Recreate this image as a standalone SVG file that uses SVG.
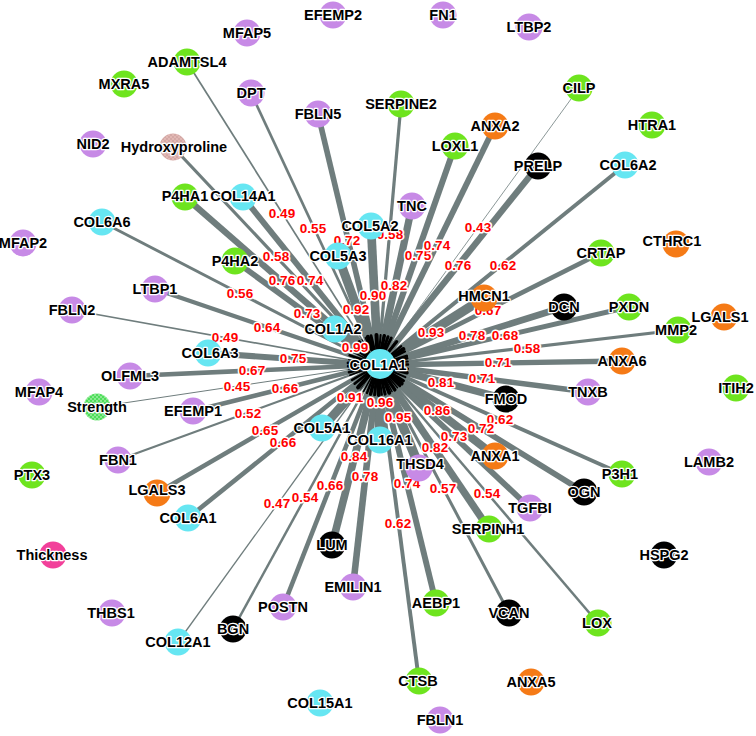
<svg xmlns="http://www.w3.org/2000/svg" width="756" height="736" viewBox="0 0 756 736">
<style>
.e{stroke:#6f7d7d;stroke-linecap:butt;fill:none}
.s{stroke:#000;stroke-linecap:round}
.w{font-family:"Liberation Sans",Arial,sans-serif;font-weight:bold;font-size:13.5px;fill:#f00;stroke:#fff;stroke-width:3;paint-order:stroke;stroke-linejoin:round;text-anchor:middle}
text.l{font-family:"Liberation Sans",Arial,sans-serif;font-weight:bold;font-size:14.5px;fill:#000;stroke:#fff;stroke-width:2.5;paint-order:stroke;stroke-linejoin:round;text-anchor:middle}
.pu{fill:#c78ae6}.gr{fill:#6ee41e}.cy{fill:#66e6f2}.or{fill:#f57a16}.bk{fill:#000}.pk{fill:#f2409a}
.hy{fill:url(#hyp)}.st{fill:url(#str)}
</style>
<defs>
<pattern id="hyp" width="4" height="4" patternUnits="userSpaceOnUse"><rect width="4" height="4" fill="#e2b8b4"/><circle cx="1" cy="1" r="0.8" fill="#c49694"/><circle cx="3" cy="3" r="0.8" fill="#c49694"/></pattern>
<pattern id="str" width="4" height="4" patternUnits="userSpaceOnUse"><rect width="4" height="4" fill="#4ede5a"/><circle cx="1" cy="1" r="0.8" fill="#d8f8d8"/><circle cx="3" cy="3" r="0.8" fill="#d8f8d8"/></pattern>
</defs>
<rect width="756" height="736" fill="#fff"/>
<g id="edges">
<line class="e" x1="187" y1="62" x2="378" y2="365" stroke-width="1.7"/>
<line class="e" x1="251" y1="93" x2="378" y2="365" stroke-width="2.7"/>
<line class="e" x1="318" y1="114" x2="378" y2="365" stroke-width="5.6"/>
<line class="e" x1="401" y1="104" x2="378" y2="365" stroke-width="3.2"/>
<line class="e" x1="371" y1="226" x2="378" y2="365" stroke-width="8.7"/>
<line class="e" x1="412" y1="206" x2="378" y2="365" stroke-width="7.3"/>
<line class="e" x1="455" y1="146" x2="378" y2="365" stroke-width="6.1"/>
<line class="e" x1="495" y1="126" x2="378" y2="365" stroke-width="5.9"/>
<line class="e" x1="579" y1="88" x2="378" y2="365" stroke-width="0.8"/>
<line class="e" x1="538" y1="166" x2="378" y2="365" stroke-width="6.3"/>
<line class="e" x1="625" y1="165" x2="378" y2="365" stroke-width="3.9"/>
<line class="e" x1="484" y1="298" x2="378" y2="365" stroke-width="9.2"/>
<line class="e" x1="601" y1="253" x2="378" y2="365" stroke-width="4.7"/>
<line class="e" x1="564" y1="307" x2="378" y2="365" stroke-width="6.6"/>
<line class="e" x1="629" y1="307" x2="378" y2="365" stroke-width="4.9"/>
<line class="e" x1="678" y1="330" x2="378" y2="365" stroke-width="3.2"/>
<line class="e" x1="622" y1="361" x2="378" y2="365" stroke-width="5.4"/>
<line class="e" x1="588" y1="392" x2="378" y2="365" stroke-width="5.4"/>
<line class="e" x1="506" y1="399" x2="378" y2="365" stroke-width="7.1"/>
<line class="e" x1="622" y1="474" x2="378" y2="365" stroke-width="3.9"/>
<line class="e" x1="584" y1="492" x2="378" y2="365" stroke-width="5.6"/>
<line class="e" x1="495" y1="456" x2="378" y2="365" stroke-width="8.0"/>
<line class="e" x1="530" y1="508" x2="378" y2="365" stroke-width="5.8"/>
<line class="e" x1="489" y1="529" x2="378" y2="365" stroke-width="7.3"/>
<line class="e" x1="598" y1="623" x2="378" y2="365" stroke-width="2.5"/>
<line class="e" x1="509" y1="613" x2="378" y2="365" stroke-width="3.0"/>
<line class="e" x1="419" y1="466" x2="378" y2="365" stroke-width="9.5"/>
<line class="e" x1="436" y1="603" x2="378" y2="365" stroke-width="5.9"/>
<line class="e" x1="419" y1="681" x2="378" y2="365" stroke-width="3.9"/>
<line class="e" x1="380" y1="440" x2="378" y2="365" stroke-width="9.7"/>
<line class="e" x1="353" y1="587" x2="378" y2="365" stroke-width="6.6"/>
<line class="e" x1="332" y1="545" x2="378" y2="365" stroke-width="7.6"/>
<line class="e" x1="322" y1="428" x2="378" y2="365" stroke-width="8.8"/>
<line class="e" x1="283" y1="607" x2="378" y2="365" stroke-width="4.6"/>
<line class="e" x1="233" y1="629" x2="378" y2="365" stroke-width="2.5"/>
<line class="e" x1="178" y1="642" x2="378" y2="365" stroke-width="1.3"/>
<line class="e" x1="188" y1="518" x2="378" y2="365" stroke-width="4.6"/>
<line class="e" x1="157" y1="493" x2="378" y2="365" stroke-width="4.4"/>
<line class="e" x1="118" y1="460" x2="378" y2="365" stroke-width="2.2"/>
<line class="e" x1="193" y1="411" x2="378" y2="365" stroke-width="4.6"/>
<line class="e" x1="97" y1="407" x2="378" y2="365" stroke-width="1.0"/>
<line class="e" x1="130" y1="376" x2="378" y2="365" stroke-width="4.7"/>
<line class="e" x1="208" y1="353" x2="378" y2="365" stroke-width="6.1"/>
<line class="e" x1="72" y1="310" x2="378" y2="365" stroke-width="1.7"/>
<line class="e" x1="155" y1="289" x2="378" y2="365" stroke-width="4.2"/>
<line class="e" x1="102" y1="222" x2="378" y2="365" stroke-width="2.9"/>
<line class="e" x1="235" y1="261" x2="378" y2="365" stroke-width="5.8"/>
<line class="e" x1="173" y1="147" x2="378" y2="365" stroke-width="3.2"/>
<line class="e" x1="185" y1="197" x2="378" y2="365" stroke-width="6.3"/>
<line class="e" x1="243" y1="197" x2="378" y2="365" stroke-width="5.9"/>
<line class="e" x1="338" y1="256" x2="378" y2="365" stroke-width="9.0"/>
<line class="e" x1="335" y1="329" x2="378" y2="365" stroke-width="10.2"/>
</g>
<g id="hub-spikes">
<line class="s" x1="378" y1="365" x2="362.0" y2="339.6" stroke-width="1"/>
<line class="s" x1="378" y1="365" x2="365.3" y2="337.8" stroke-width="1.5"/>
<line class="s" x1="378" y1="365" x2="371.0" y2="335.8" stroke-width="3"/>
<line class="s" x1="378" y1="365" x2="380.6" y2="335.1" stroke-width="2"/>
<line class="s" x1="378" y1="365" x2="376.5" y2="335.0" stroke-width="4"/>
<line class="s" x1="378" y1="365" x2="384.3" y2="335.7" stroke-width="3.5"/>
<line class="s" x1="378" y1="365" x2="388.0" y2="336.7" stroke-width="3"/>
<line class="s" x1="378" y1="365" x2="391.2" y2="338.1" stroke-width="3"/>
<line class="s" x1="378" y1="365" x2="395.6" y2="340.7" stroke-width="0.8"/>
<line class="s" x1="378" y1="365" x2="396.8" y2="341.6" stroke-width="3"/>
<line class="s" x1="378" y1="365" x2="401.3" y2="346.1" stroke-width="2"/>
<line class="s" x1="378" y1="365" x2="403.4" y2="349.0" stroke-width="4"/>
<line class="s" x1="378" y1="365" x2="404.8" y2="351.5" stroke-width="2.5"/>
<line class="s" x1="378" y1="365" x2="406.6" y2="356.1" stroke-width="3"/>
<line class="s" x1="378" y1="365" x2="407.2" y2="358.2" stroke-width="2.5"/>
<line class="s" x1="378" y1="365" x2="407.8" y2="361.5" stroke-width="2"/>
<line class="s" x1="378" y1="365" x2="408.0" y2="364.5" stroke-width="2.5"/>
<line class="s" x1="378" y1="365" x2="407.8" y2="368.8" stroke-width="2.5"/>
<line class="s" x1="378" y1="365" x2="407.0" y2="372.7" stroke-width="3.5"/>
<line class="s" x1="378" y1="365" x2="405.4" y2="377.2" stroke-width="2"/>
<line class="s" x1="378" y1="365" x2="403.5" y2="380.7" stroke-width="3"/>
<line class="s" x1="378" y1="365" x2="401.7" y2="383.4" stroke-width="4"/>
<line class="s" x1="378" y1="365" x2="399.8" y2="385.6" stroke-width="3"/>
<line class="s" x1="378" y1="365" x2="394.8" y2="389.8" stroke-width="3.5"/>
<line class="s" x1="378" y1="365" x2="397.5" y2="387.8" stroke-width="1.5"/>
<line class="s" x1="378" y1="365" x2="392.0" y2="391.5" stroke-width="1.5"/>
<line class="s" x1="378" y1="365" x2="389.3" y2="392.8" stroke-width="4"/>
<line class="s" x1="378" y1="365" x2="385.1" y2="394.1" stroke-width="3"/>
<line class="s" x1="378" y1="365" x2="381.9" y2="394.8" stroke-width="2"/>
<line class="s" x1="378" y1="365" x2="378.8" y2="395.0" stroke-width="4"/>
<line class="s" x1="378" y1="365" x2="374.6" y2="394.8" stroke-width="3"/>
<line class="s" x1="378" y1="365" x2="370.6" y2="394.1" stroke-width="3.5"/>
<line class="s" x1="378" y1="365" x2="358.1" y2="387.4" stroke-width="4"/>
<line class="s" x1="378" y1="365" x2="367.0" y2="392.9" stroke-width="2.5"/>
<line class="s" x1="378" y1="365" x2="363.6" y2="391.3" stroke-width="1.5"/>
<line class="s" x1="378" y1="365" x2="360.4" y2="389.3" stroke-width="0.8"/>
<line class="s" x1="378" y1="365" x2="354.6" y2="383.8" stroke-width="2.5"/>
<line class="s" x1="378" y1="365" x2="352.0" y2="380.0" stroke-width="2.5"/>
<line class="s" x1="378" y1="365" x2="349.8" y2="375.3" stroke-width="1.5"/>
<line class="s" x1="378" y1="365" x2="348.9" y2="372.2" stroke-width="2.5"/>
<line class="s" x1="378" y1="365" x2="348.3" y2="369.4" stroke-width="0.8"/>
<line class="s" x1="378" y1="365" x2="348.0" y2="366.3" stroke-width="2.5"/>
<line class="s" x1="378" y1="365" x2="348.1" y2="362.9" stroke-width="3"/>
<line class="s" x1="378" y1="365" x2="348.5" y2="359.7" stroke-width="1"/>
<line class="s" x1="378" y1="365" x2="349.6" y2="355.3" stroke-width="2.5"/>
<line class="s" x1="378" y1="365" x2="351.4" y2="351.2" stroke-width="1.5"/>
<line class="s" x1="378" y1="365" x2="353.7" y2="347.4" stroke-width="3"/>
<line class="s" x1="378" y1="365" x2="357.4" y2="343.1" stroke-width="2"/>
<line class="s" x1="378" y1="365" x2="355.4" y2="345.3" stroke-width="3"/>
<line class="s" x1="378" y1="365" x2="359.2" y2="341.6" stroke-width="3"/>
<line class="s" x1="378" y1="365" x2="367.7" y2="336.8" stroke-width="4"/>
<line class="s" x1="378" y1="365" x2="355.0" y2="345.7" stroke-width="4.5"/>
</g>
<g id="edge-labels">
<text class="w" x="282" y="218">0.49</text>
<text class="w" x="313" y="233">0.55</text>
<text class="w" x="347" y="245">0.72</text>
<text class="w" x="390" y="239">0.58</text>
<text class="w" x="373" y="300">0.90</text>
<text class="w" x="394" y="290">0.82</text>
<text class="w" x="418" y="260">0.75</text>
<text class="w" x="437" y="250">0.74</text>
<text class="w" x="478" y="232">0.43</text>
<text class="w" x="458" y="270">0.76</text>
<text class="w" x="503" y="270">0.62</text>
<text class="w" x="431" y="337">0.93</text>
<text class="w" x="488" y="315">0.67</text>
<text class="w" x="472" y="340">0.78</text>
<text class="w" x="505" y="340">0.68</text>
<text class="w" x="527" y="353">0.58</text>
<text class="w" x="498" y="367">0.71</text>
<text class="w" x="482" y="383">0.71</text>
<text class="w" x="441" y="387">0.81</text>
<text class="w" x="500" y="424">0.62</text>
<text class="w" x="481" y="433">0.72</text>
<text class="w" x="437" y="415">0.86</text>
<text class="w" x="454" y="441">0.73</text>
<text class="w" x="435" y="452">0.82</text>
<text class="w" x="487" y="498">0.54</text>
<text class="w" x="443" y="493">0.57</text>
<text class="w" x="398" y="422">0.95</text>
<text class="w" x="407" y="488">0.74</text>
<text class="w" x="398" y="528">0.62</text>
<text class="w" x="380" y="407">0.96</text>
<text class="w" x="365" y="481">0.78</text>
<text class="w" x="354" y="461">0.84</text>
<text class="w" x="350" y="402">0.91</text>
<text class="w" x="330" y="490">0.66</text>
<text class="w" x="305" y="502">0.54</text>
<text class="w" x="277" y="508">0.47</text>
<text class="w" x="283" y="447">0.66</text>
<text class="w" x="265" y="435">0.65</text>
<text class="w" x="248" y="418">0.52</text>
<text class="w" x="285" y="393">0.66</text>
<text class="w" x="237" y="391">0.45</text>
<text class="w" x="252" y="375">0.67</text>
<text class="w" x="293" y="363">0.75</text>
<text class="w" x="225" y="342">0.49</text>
<text class="w" x="267" y="332">0.64</text>
<text class="w" x="240" y="298">0.56</text>
<text class="w" x="307" y="318">0.73</text>
<text class="w" x="276" y="261">0.58</text>
<text class="w" x="282" y="285">0.76</text>
<text class="w" x="310" y="285">0.74</text>
<text class="w" x="356" y="314">0.92</text>
<text class="w" x="355" y="352">0.99</text>
</g>
<g id="n-MFAP5"><circle class="pu" cx="247" cy="33" r="13.5"/><text class="l" x="247" y="38">MFAP5</text></g>
<g id="n-EFEMP2"><circle class="pu" cx="333" cy="15" r="13.5"/><text class="l" x="333" y="20">EFEMP2</text></g>
<g id="n-FN1"><circle class="pu" cx="443" cy="15" r="13.5"/><text class="l" x="443" y="20">FN1</text></g>
<g id="n-LTBP2"><circle class="pu" cx="529" cy="27" r="13.5"/><text class="l" x="529" y="32">LTBP2</text></g>
<g id="n-ADAMTSL4"><circle class="gr" cx="187" cy="62" r="13.5"/><text class="l" x="187" y="67">ADAMTSL4</text></g>
<g id="n-MXRA5"><circle class="gr" cx="124" cy="84" r="13.5"/><text class="l" x="124" y="89">MXRA5</text></g>
<g id="n-DPT"><circle class="pu" cx="251" cy="93" r="13.5"/><text class="l" x="251" y="98">DPT</text></g>
<g id="n-FBLN5"><circle class="pu" cx="318" cy="114" r="13.5"/><text class="l" x="318" y="119">FBLN5</text></g>
<g id="n-SERPINE2"><circle class="gr" cx="401" cy="104" r="13.5"/><text class="l" x="401" y="109">SERPINE2</text></g>
<g id="n-CILP"><circle class="gr" cx="579" cy="88" r="13.5"/><text class="l" x="579" y="93">CILP</text></g>
<g id="n-NID2"><circle class="pu" cx="93" cy="144" r="13.5"/><text class="l" x="93" y="149">NID2</text></g>
<g id="n-Hydroxyproline"><circle class="hy" cx="173" cy="147" r="13.5"/><text class="l" x="174" y="152">Hydroxyproline</text></g>
<g id="n-ANXA2"><circle class="or" cx="495" cy="126" r="13.5"/><text class="l" x="495" y="131">ANXA2</text></g>
<g id="n-LOXL1"><circle class="gr" cx="455" cy="146" r="13.5"/><text class="l" x="455" y="151">LOXL1</text></g>
<g id="n-HTRA1"><circle class="gr" cx="652" cy="125" r="13.5"/><text class="l" x="652" y="130">HTRA1</text></g>
<g id="n-PRELP"><circle class="bk" cx="538" cy="166" r="13.5"/><text class="l" x="538" y="171">PRELP</text></g>
<g id="n-COL6A2"><circle class="cy" cx="625" cy="165" r="13.5"/><text class="l" x="628" y="170">COL6A2</text></g>
<g id="n-P4HA1"><circle class="gr" cx="185" cy="197" r="13.5"/><text class="l" x="185" y="201">P4HA1</text></g>
<g id="n-COL14A1"><circle class="cy" cx="243" cy="197" r="13.5"/><text class="l" x="243" y="201">COL14A1</text></g>
<g id="n-COL6A6"><circle class="cy" cx="102" cy="222" r="13.5"/><text class="l" x="102" y="227">COL6A6</text></g>
<g id="n-MFAP2"><circle class="pu" cx="23" cy="243" r="13.5"/><text class="l" x="23" y="248">MFAP2</text></g>
<g id="n-TNC"><circle class="pu" cx="412" cy="206" r="13.5"/><text class="l" x="412" y="211">TNC</text></g>
<g id="n-COL5A2"><circle class="cy" cx="371" cy="226" r="13.5"/><text class="l" x="370" y="231">COL5A2</text></g>
<g id="n-COL5A3"><circle class="cy" cx="338" cy="256" r="13.5"/><text class="l" x="338" y="261">COL5A3</text></g>
<g id="n-P4HA2"><circle class="gr" cx="235" cy="261" r="13.5"/><text class="l" x="235" y="266">P4HA2</text></g>
<g id="n-CTHRC1"><circle class="or" cx="676" cy="244" r="13.5"/><text class="l" x="672" y="246">CTHRC1</text></g>
<g id="n-CRTAP"><circle class="gr" cx="601" cy="253" r="13.5"/><text class="l" x="601" y="258">CRTAP</text></g>
<g id="n-LTBP1"><circle class="pu" cx="155" cy="289" r="13.5"/><text class="l" x="155" y="294">LTBP1</text></g>
<g id="n-FBLN2"><circle class="pu" cx="72" cy="310" r="13.5"/><text class="l" x="72" y="315">FBLN2</text></g>
<g id="n-HMCN1"><circle class="or" cx="484" cy="298" r="13.5"/><text class="l" x="484" y="301">HMCN1</text></g>
<g id="n-DCN"><circle class="bk" cx="564" cy="307" r="13.5"/><text class="l" x="564" y="312">DCN</text></g>
<g id="n-PXDN"><circle class="gr" cx="629" cy="307" r="13.5"/><text class="l" x="629" y="312">PXDN</text></g>
<g id="n-LGALS1"><circle class="or" cx="724" cy="317" r="13.5"/><text class="l" x="720" y="322">LGALS1</text></g>
<g id="n-MMP2"><circle class="gr" cx="678" cy="330" r="13.5"/><text class="l" x="676" y="335">MMP2</text></g>
<g id="n-COL1A2"><circle class="cy" cx="335" cy="329" r="13.5"/><text class="l" x="333" y="334">COL1A2</text></g>
<g id="n-COL6A3"><circle class="cy" cx="208" cy="353" r="13.5"/><text class="l" x="210" y="358">COL6A3</text></g>
<g id="n-COL1A1"><circle class="cy" cx="380" cy="364" r="15"/><text class="l" x="378" y="370">COL1A1</text></g>
<g id="n-ANXA6"><circle class="or" cx="622" cy="361" r="13.5"/><text class="l" x="622" y="366">ANXA6</text></g>
<g id="n-OLFML3"><circle class="pu" cx="130" cy="376" r="13.5"/><text class="l" x="130" y="381">OLFML3</text></g>
<g id="n-MFAP4"><circle class="pu" cx="39" cy="392" r="13.5"/><text class="l" x="39" y="397">MFAP4</text></g>
<g id="n-Strength"><circle class="st" cx="97" cy="407" r="13.5"/><text class="l" x="97" y="412">Strength</text></g>
<g id="n-EFEMP1"><circle class="pu" cx="193" cy="411" r="13.5"/><text class="l" x="193" y="416">EFEMP1</text></g>
<g id="n-TNXB"><circle class="pu" cx="588" cy="392" r="13.5"/><text class="l" x="588" y="397">TNXB</text></g>
<g id="n-ITIH2"><circle class="gr" cx="736" cy="388" r="13.5"/><text class="l" x="736" y="393">ITIH2</text></g>
<g id="n-FMOD"><circle class="bk" cx="506" cy="399" r="13.5"/><text class="l" x="506" y="404">FMOD</text></g>
<g id="n-COL5A1"><circle class="cy" cx="322" cy="428" r="13.5"/><text class="l" x="322" y="433">COL5A1</text></g>
<g id="n-COL16A1"><circle class="cy" cx="380" cy="440" r="13.5"/><text class="l" x="380" y="445">COL16A1</text></g>
<g id="n-FBN1"><circle class="pu" cx="118" cy="460" r="13.5"/><text class="l" x="118" y="465">FBN1</text></g>
<g id="n-PTX3"><circle class="gr" cx="32" cy="475" r="13.5"/><text class="l" x="32" y="480">PTX3</text></g>
<g id="n-ANXA1"><circle class="or" cx="495" cy="456" r="13.5"/><text class="l" x="495" y="461">ANXA1</text></g>
<g id="n-THSD4"><circle class="pu" cx="419" cy="468" r="13.5"/><text class="l" x="420" y="469">THSD4</text></g>
<g id="n-P3H1"><circle class="gr" cx="622" cy="474" r="13.5"/><text class="l" x="620" y="479">P3H1</text></g>
<g id="n-LAMB2"><circle class="pu" cx="709" cy="462" r="13.5"/><text class="l" x="709" y="467">LAMB2</text></g>
<g id="n-LGALS3"><circle class="or" cx="157" cy="493" r="13.5"/><text class="l" x="157" y="495">LGALS3</text></g>
<g id="n-COL6A1"><circle class="cy" cx="188" cy="518" r="13.5"/><text class="l" x="188" y="523">COL6A1</text></g>
<g id="n-OGN"><circle class="bk" cx="584" cy="492" r="13.5"/><text class="l" x="584" y="497">OGN</text></g>
<g id="n-TGFBI"><circle class="pu" cx="530" cy="508" r="13.5"/><text class="l" x="530" y="513">TGFBI</text></g>
<g id="n-SERPINH1"><circle class="gr" cx="489" cy="529" r="13.5"/><text class="l" x="488" y="534">SERPINH1</text></g>
<g id="n-HSPG2"><circle class="bk" cx="664" cy="555" r="13.5"/><text class="l" x="664" y="560">HSPG2</text></g>
<g id="n-Thickness"><circle class="pk" cx="53" cy="555" r="13.5"/><text class="l" x="52" y="560">Thickness</text></g>
<g id="n-LUM"><circle class="bk" cx="332" cy="545" r="13.5"/><text class="l" x="332" y="550">LUM</text></g>
<g id="n-EMILIN1"><circle class="pu" cx="353" cy="587" r="13.5"/><text class="l" x="353" y="592">EMILIN1</text></g>
<g id="n-THBS1"><circle class="pu" cx="112" cy="613" r="13.5"/><text class="l" x="111" y="618">THBS1</text></g>
<g id="n-POSTN"><circle class="pu" cx="283" cy="607" r="13.5"/><text class="l" x="283" y="612">POSTN</text></g>
<g id="n-AEBP1"><circle class="gr" cx="436" cy="603" r="13.5"/><text class="l" x="436" y="608">AEBP1</text></g>
<g id="n-VCAN"><circle class="bk" cx="509" cy="613" r="13.5"/><text class="l" x="509" y="618">VCAN</text></g>
<g id="n-LOX"><circle class="gr" cx="598" cy="623" r="13.5"/><text class="l" x="597" y="628">LOX</text></g>
<g id="n-BGN"><circle class="bk" cx="233" cy="629" r="13.5"/><text class="l" x="233" y="634">BGN</text></g>
<g id="n-COL12A1"><circle class="cy" cx="178" cy="642" r="13.5"/><text class="l" x="178" y="647">COL12A1</text></g>
<g id="n-CTSB"><circle class="gr" cx="419" cy="681" r="13.5"/><text class="l" x="418" y="686">CTSB</text></g>
<g id="n-ANXA5"><circle class="or" cx="531" cy="682" r="13.5"/><text class="l" x="531" y="687">ANXA5</text></g>
<g id="n-COL15A1"><circle class="cy" cx="320" cy="703" r="13.5"/><text class="l" x="320" y="708">COL15A1</text></g>
<g id="n-FBLN1"><circle class="pu" cx="440" cy="720" r="13.5"/><text class="l" x="440" y="725">FBLN1</text></g>
</svg>
